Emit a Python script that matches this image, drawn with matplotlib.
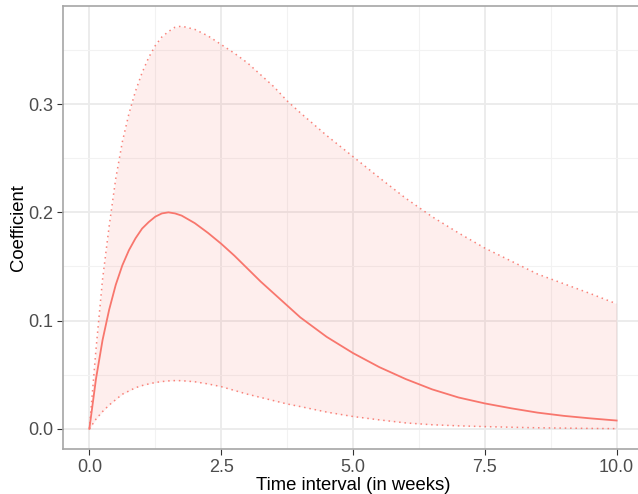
import matplotlib
matplotlib.use("Agg")
import matplotlib.pyplot as plt
from matplotlib.ticker import MultipleLocator, FormatStrFormatter

plt.rcParams['font.family'] = ['Liberation Sans', 'DejaVu Sans']

# lag values
weeks = [0, 0.125, 0.25, 0.375, 0.5, 0.625, 0.75, 0.875, 1.0, 1.125, 1.25,
         1.375, 1.5, 1.625, 1.75, 2.0, 2.25, 2.5, 2.75, 3.0, 3.25, 3.5, 3.75,
         4.0, 4.5, 5.0, 5.5, 6.0, 6.5, 7.0, 7.5, 8.0, 8.5, 9.0, 9.5, 10.0]
coef = [0, 0.046, 0.082, 0.110, 0.133, 0.151, 0.165, 0.176, 0.185, 0.191,
        0.196, 0.199, 0.200, 0.199, 0.197, 0.190, 0.181, 0.171, 0.160, 0.148,
        0.136, 0.125, 0.114, 0.103, 0.085, 0.070, 0.057, 0.046, 0.0365,
        0.029, 0.0235, 0.019, 0.015, 0.012, 0.0097, 0.0077]
upper = [0, 0.073, 0.138, 0.187, 0.231, 0.265, 0.291, 0.312, 0.329, 0.343,
         0.354, 0.362, 0.367, 0.371, 0.372, 0.369, 0.363, 0.355, 0.347, 0.338,
         0.327, 0.316, 0.303, 0.292, 0.271, 0.2515, 0.232, 0.213, 0.196,
         0.181, 0.167, 0.155, 0.143, 0.134, 0.125, 0.1155]
lower = [0, 0.009, 0.016, 0.022, 0.027, 0.032, 0.035, 0.038, 0.040, 0.0415,
         0.0428, 0.0437, 0.0443, 0.0446, 0.0445, 0.0435, 0.0415, 0.039,
         0.0355, 0.032, 0.029, 0.026, 0.023, 0.0206, 0.0155, 0.0114, 0.0083,
         0.0055, 0.0038, 0.0028, 0.0021, 0.0015, 0.001, 0.0007, 0.0004,
         0.0002]

red = '#F8766D'

fig = plt.figure(figsize=(6.38, 4.94), dpi=100)
ax = fig.add_axes([63/638, 45/494, 580/638, 443/494])

ax.fill_between(weeks, lower, upper, color=red, alpha=0.12, lw=0)
ax.plot(weeks, upper, color=red, lw=1.1, ls=(0, (1, 2.5)), alpha=0.9)
ax.plot(weeks, lower, color=red, lw=1.1, ls=(0, (1, 2.5)), alpha=0.9)
ax.plot(weeks, coef, color=red, lw=1.3)

ax.set_xlim(-0.5, 10.5)
ax.set_ylim(-0.0186, 0.3906)
ax.xaxis.set_major_locator(MultipleLocator(2.5))
ax.xaxis.set_minor_locator(MultipleLocator(1.25))
ax.yaxis.set_major_locator(MultipleLocator(0.1))
ax.yaxis.set_minor_locator(MultipleLocator(0.05))
ax.xaxis.set_major_formatter(FormatStrFormatter('%.1f'))
ax.yaxis.set_major_formatter(FormatStrFormatter('%.1f'))

ax.grid(which='major', color='#EBEBEB', lw=1.3)
ax.grid(which='minor', color='#F2F2F2', lw=0.8)
ax.set_axisbelow(True)

for s in ax.spines.values():
    s.set_color('#A6A6A6')
    s.set_linewidth(1.2)

ax.tick_params(which='major', length=4, width=0.8, color='#333333',
               labelsize=13, labelcolor='#4D4D4D', pad=3)
ax.tick_params(which='minor', length=0)

ax.set_xlabel('Time interval (in weeks)', fontsize=13.3, labelpad=1)
ax.set_ylabel('Coefficient', fontsize=13.3, labelpad=0.5)

fig.savefig('out.png', dpi=100)
